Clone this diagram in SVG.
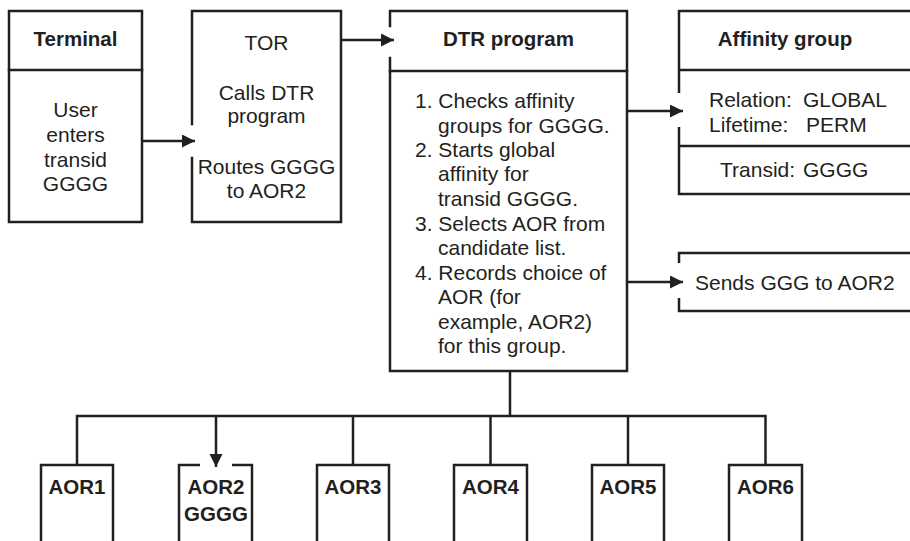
<svg xmlns="http://www.w3.org/2000/svg" width="910" height="541" viewBox="0 0 910 541">
<style>
.b{fill:none;stroke:#231f20;stroke-width:2.5;stroke-linecap:square}
.c{fill:none;stroke:#231f20;stroke-width:2.5}
text{font-family:"Liberation Sans",Arial,sans-serif;font-size:21px;fill:#231f20}
.h{font-weight:bold;font-size:20.5px}
.m{text-anchor:middle}
</style>
<defs>
<marker id="ah" markerUnits="userSpaceOnUse" markerWidth="14" markerHeight="14" refX="13" refY="6.5" orient="auto">
<path d="M0,0 L13,6.5 L0,13 z" fill="#231f20"/>
</marker>
</defs>
<rect width="910" height="541" fill="#fff"/>

<g id="terminal">
<rect class="b" x="9" y="11" width="133" height="211"/>
<line class="b" x1="9" y1="70" x2="142" y2="70"/>
<text class="h m" x="75.5" y="46">Terminal</text>
<text class="m" x="75.5" y="117">User</text>
<text class="m" x="75.5" y="142">enters</text>
<text class="m" x="75.5" y="167">transid</text>
<text class="m" x="75.5" y="191">GGGG</text>
</g>

<g id="tor">
<path class="b" d="M192,124 V11 H341 V222 H192 V158"/>
<text class="m" x="266.5" y="50">TOR</text>
<text class="m" x="266.5" y="100">Calls DTR</text>
<text class="m" x="266.5" y="123">program</text>
<text class="m" x="266.5" y="174">Routes GGGG</text>
<text class="m" x="266.5" y="198">to AOR2</text>
</g>

<g id="dtr">
<path class="b" d="M390,26 V11 H627 V371 H390 V58"/>
<line class="b" x1="390" y1="71" x2="627" y2="71"/>
<text class="h m" x="508.5" y="46">DTR program</text>
<text x="415" y="108">1. Checks affinity</text>
<text x="438" y="133">groups for GGGG.</text>
<text x="415" y="157">2. Starts global</text>
<text x="438" y="181">affinity for</text>
<text x="438" y="206">transid GGGG.</text>
<text x="415" y="231">3. Selects AOR from</text>
<text x="438" y="255">candidate list.</text>
<text x="415" y="280">4. Records choice of</text>
<text x="438" y="304">AOR (for</text>
<text x="438" y="329">example, AOR2)</text>
<text x="438" y="353">for this group.</text>
</g>

<g id="affinity">
<path class="c" d="M912,11 H679 V93"/>
<path class="c" d="M679,127 V194 H912"/>
<line class="c" x1="679" y1="70" x2="912" y2="70"/>
<line class="c" x1="679" y1="146" x2="912" y2="146"/>
<text class="h m" x="785" y="46">Affinity group</text>
<text x="709" y="107">Relation:</text>
<text x="803" y="107">GLOBAL</text>
<text x="709" y="132">Lifetime:</text>
<text x="806" y="132">PERM</text>
<text x="720" y="177">Transid:</text>
<text x="803" y="177">GGGG</text>
</g>

<g id="sends">
<path class="c" d="M912,253 H679 V263"/>
<path class="c" d="M679,298 V311 H912"/>
<text x="695" y="290">Sends GGG to AOR2</text>
</g>

<g id="aor1">
<path class="c" d="M41,541 V465 H113 V541"/>
<text class="h m" x="77" y="494">AOR1</text>
</g>
<g id="aor2">
<path class="c" d="M200,465 H179 V541"/>
<path class="c" d="M232,465 H252 V541"/>
<text class="h m" x="216" y="494">AOR2</text>
<text class="h m" x="216" y="521">GGGG</text>
</g>
<g id="aor3">
<path class="c" d="M317,541 V465 H389 V541"/>
<text class="h m" x="353" y="494">AOR3</text>
</g>
<g id="aor4">
<path class="c" d="M454,541 V465 H527 V541"/>
<text class="h m" x="490.5" y="494">AOR4</text>
</g>
<g id="aor5">
<path class="c" d="M592,541 V465 H664 V541"/>
<text class="h m" x="628" y="494">AOR5</text>
</g>
<g id="aor6">
<path class="c" d="M729,541 V465 H802 V541"/>
<text class="h m" x="765.5" y="494">AOR6</text>
</g>

<g id="connectors">
<line class="c" x1="142" y1="141" x2="195" y2="141" marker-end="url(#ah)"/>
<line class="c" x1="341" y1="40" x2="394" y2="40" marker-end="url(#ah)"/>
<line class="c" x1="627" y1="111" x2="683" y2="111" marker-end="url(#ah)"/>
<line class="c" x1="627" y1="282" x2="683" y2="282" marker-end="url(#ah)"/>
<line class="c" x1="510" y1="371" x2="510" y2="416"/>
<path class="c" d="M77,465 V416 H765.5 V465"/>
<line class="c" x1="353" y1="416" x2="353" y2="465"/>
<line class="c" x1="490.5" y1="416" x2="490.5" y2="465"/>
<line class="c" x1="628" y1="416" x2="628" y2="465"/>
<line class="c" x1="216" y1="416" x2="216" y2="467" marker-end="url(#ah)"/>
</g>
</svg>
